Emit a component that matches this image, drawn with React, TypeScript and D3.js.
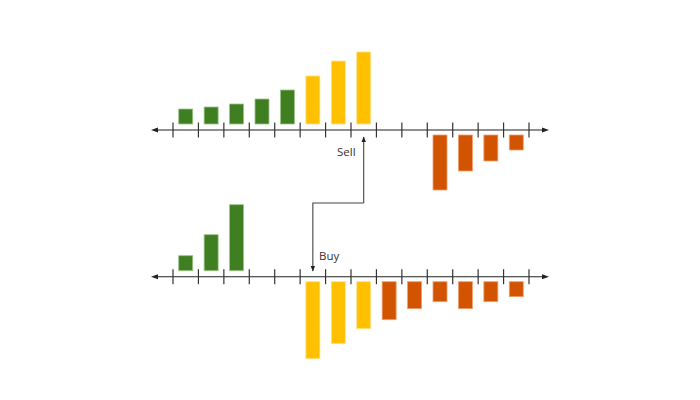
import React from "react";
import * as d3 from "d3";

const slots = d3.range(14);
const topValues = [15, 17, 20, 25, 34, 48, 63, 72, 0, 0, -55, -36, -26, -15];
const topGroups = ["g", "g", "g", "g", "g", "y", "y", "y", "", "", "o", "o", "o", "o"];
const bottomValues = [15, 36, 66, 0, 0, -77, -62, -47, -38, -27, -20, -27, -20, -15];
const bottomGroups = ["g", "g", "g", "", "", "y", "y", "y", "o", "o", "o", "o", "o", "o"];
const labels = [
  { text: "Sell", slot: 7 },
  { text: "Buy", slot: 5 },
];

const palette: Record<string, string> = { g: "#3F7F22", y: "#FFC000", o: "#D35400" };
const strokes: Record<string, string> = { g: "#9CC48A", y: "#FFE28A", o: "#F0A070" };

export default function App() {
  const W = 700, H = 400;
  const x = d3.scaleLinear().domain([0, 14]).range([173, 529]);
  const h = d3.scaleLinear().domain([0, 100]).range([0, 100]);
  const axes = [
    { y: 130, values: topValues, groups: topGroups },
    { y: 276.7, values: bottomValues, groups: bottomGroups },
  ];
  const bw = 14;
  const ticks = d3.range(15);
  const axisColor = "#222";

  const sellX = x(labels[0].slot + 0.5);
  const buyX = x(labels[1].slot + 0.5);

  return (
    <svg width={W} height={H} style={{ position: "absolute", left: 0, top: 0, background: "#fff" }}>
      <defs>
        <marker id="ah" viewBox="0 0 10 10" refX="9" refY="5" markerWidth="5" markerHeight="5" orient="auto">
          <path d="M0,1 L10,5 L0,9 Z" fill="#222" />
        </marker>
      </defs>
      {axes.map((a, ai) => (
        <g key={ai}>
          {slots.map((i) => {
            const v = a.values[i];
            if (!v) return null;
            const hh = h(Math.abs(v));
            const y0 = v > 0 ? a.y - 6 - hh : a.y + 5;
            return (
              <rect
                key={i}
                x={x(i + 0.5) - bw / 2}
                y={y0}
                width={bw}
                height={hh}
                fill={palette[a.groups[i]]}
                stroke={strokes[a.groups[i]]}
                strokeWidth={0.8}
              />
            );
          })}
          <line x1={157} x2={543} y1={a.y} y2={a.y} stroke={axisColor} strokeWidth={1.1} />
          <path d={`M151,${a.y} L158,${a.y - 2.5} L158,${a.y + 2.5} Z`} fill={axisColor} />
          <path d={`M549,${a.y} L542,${a.y - 2.5} L542,${a.y + 2.5} Z`} fill={axisColor} />
          {ticks.map((t) => (
            <line key={t} x1={x(t)} x2={x(t)} y1={a.y - 7.5} y2={a.y + 7.5} stroke="#333" strokeWidth={1.2} />
          ))}
        </g>
      ))}
      <path
        d={`M${sellX},203 V137`}
        fill="none"
        stroke="#444"
        strokeWidth={1.1}
        markerEnd="url(#ah)"
      />
      <path
        d={`M${sellX},203 H${buyX} V271`}
        fill="none"
        stroke="#444"
        strokeWidth={1.1}
        markerEnd="url(#ah)"
      />
      <text x={337} y={156} fontFamily="Open Sans, sans-serif" fontSize={11.5} fill="#333">
        {labels[0].text}
      </text>
      <text x={319} y={260} fontFamily="Open Sans, sans-serif" fontSize={11.5} fill="#333">
        {labels[1].text}
      </text>
    </svg>
  );
}
